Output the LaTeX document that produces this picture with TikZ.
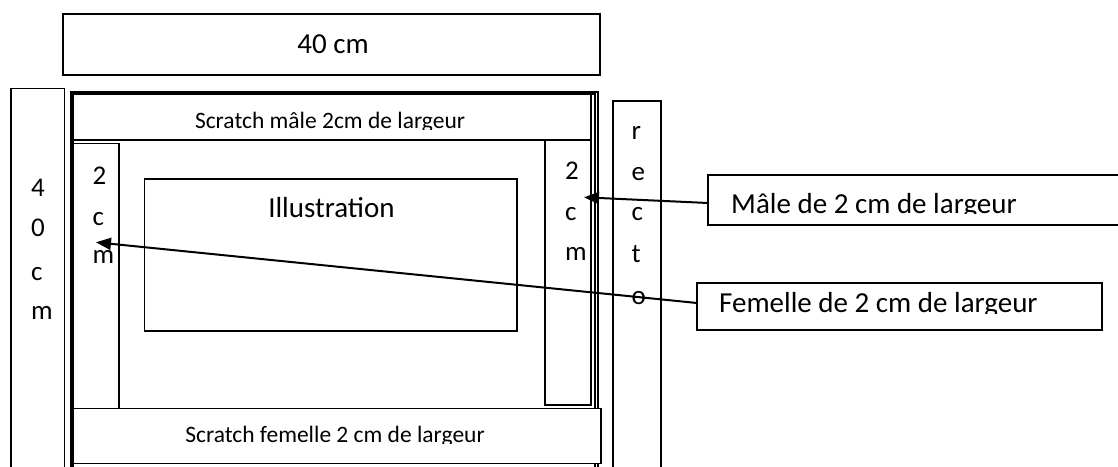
\documentclass[tikz,border=0pt]{standalone}
\usepackage{fontspec}
\setmainfont{Carlito}
\usetikzlibrary{arrows.meta}
\begin{document}
\begin{tikzpicture}[x=1pt,y=-1pt,
  box/.style={draw, line width=1.6pt, inner sep=0pt, outer sep=0pt, anchor=north west},
  big/.style={font=\fontsize{29}{34}\selectfont, inner sep=0pt, anchor=base},
  small/.style={font=\fontsize{23.5}{28}\selectfont, inner sep=0pt, anchor=base},
  vl/.style={font=\fontsize{27}{30}\selectfont, inner sep=0pt, anchor=base west},
  arr/.style={line width=2pt, -{Triangle[length=15pt,width=12pt]}}]
\clip (0,0) rectangle (1118,466);
% boxes
\node[box, minimum width=537pt, minimum height=61pt] (top) at (63,14) {};
\node[box, minimum width=53.6pt, minimum height=390pt] (leftbox) at (10.7,88.3) {};
\node[box, minimum width=527.3pt, minimum height=380pt] (outer) at (70.7,91.7) {};
\node[box, minimum width=522.3pt, minimum height=380pt] (inner) at (72.7,94) {};
\node[box, minimum width=518.3pt, minimum height=46pt] (smale) at (72.7,94) {};
\node[box, minimum width=46.3pt, minimum height=265pt] (lstrip) at (72.7,143.3) {};
\node[box, minimum width=46pt, minimum height=265pt] (rstrip) at (545,140) {};
\node[box, minimum width=372.7pt, minimum height=151.7pt] (illu) at (144.3,179) {};
\node[box, fill=white, minimum width=528.3pt, minimum height=55pt] (sfem) at (72.7,408.3) {};
\node[box, minimum width=48pt, minimum height=380pt] (recto) at (612.7,100.7) {};
\node[box, minimum width=430pt, minimum height=50pt] (male) at (708,175) {};
\node[box, minimum width=405pt, minimum height=47pt] (fem) at (697,283) {};
% texts
\node[big] (toptxt) at (333,53) {40 cm};
\node[big] (illutxt) at (331.5,217) {Illustration};
\begin{scope}
  \clip (72,94) rectangle (592,129.5);
  \node[small] (smaletxt) at (330,128) {Scratch mâle 2cm de largeur};
\end{scope}
\begin{scope}
  \clip (72,409) rectangle (602,443.5);
  \node[small] (sfemtxt) at (335,442.5) {Scratch femelle 2 cm de largeur};
\end{scope}
\begin{scope}
  \clip (708,176) rectangle (1118,213.5);
  \node[big, anchor=base west] (maletxt) at (731,213) {Mâle de 2 cm de largeur};
\end{scope}
\begin{scope}
  \clip (697,284) rectangle (1102,313.3);
  \node[big, anchor=base west] (femtxt) at (719,312.5) {Femelle de 2 cm de largeur};
\end{scope}
% vertical letters
\foreach \c/\yy [count=\i] in {4/196,0/236,c/280,m/319}
  \node[vl] (la\i) at (31,\yy) {\c};
\foreach \c/\yy [count=\i] in {2/184,c/225,m/263}
  \node[vl] (lb\i) at (92.5,\yy) {\c};
\foreach \c/\yy [count=\i] in {2/179,c/220,m/260}
  \node[vl] (lc\i) at (565,\yy) {\c};
\foreach \c/\yy [count=\i] in {r/139,e/180,c/220,t/262,o/304}
  \node[vl] (ld\i) at (631.5,\yy) {\c};
% arrows
\coordinate (maletip) at (584,197.3);
\coordinate (femtip) at (96,242.3);
\draw[arr] ([yshift=-3pt]male.west) -- (maletip);
\draw[arr] ([yshift=3.5pt]fem.west) -- (femtip);
\end{tikzpicture}
\end{document}
